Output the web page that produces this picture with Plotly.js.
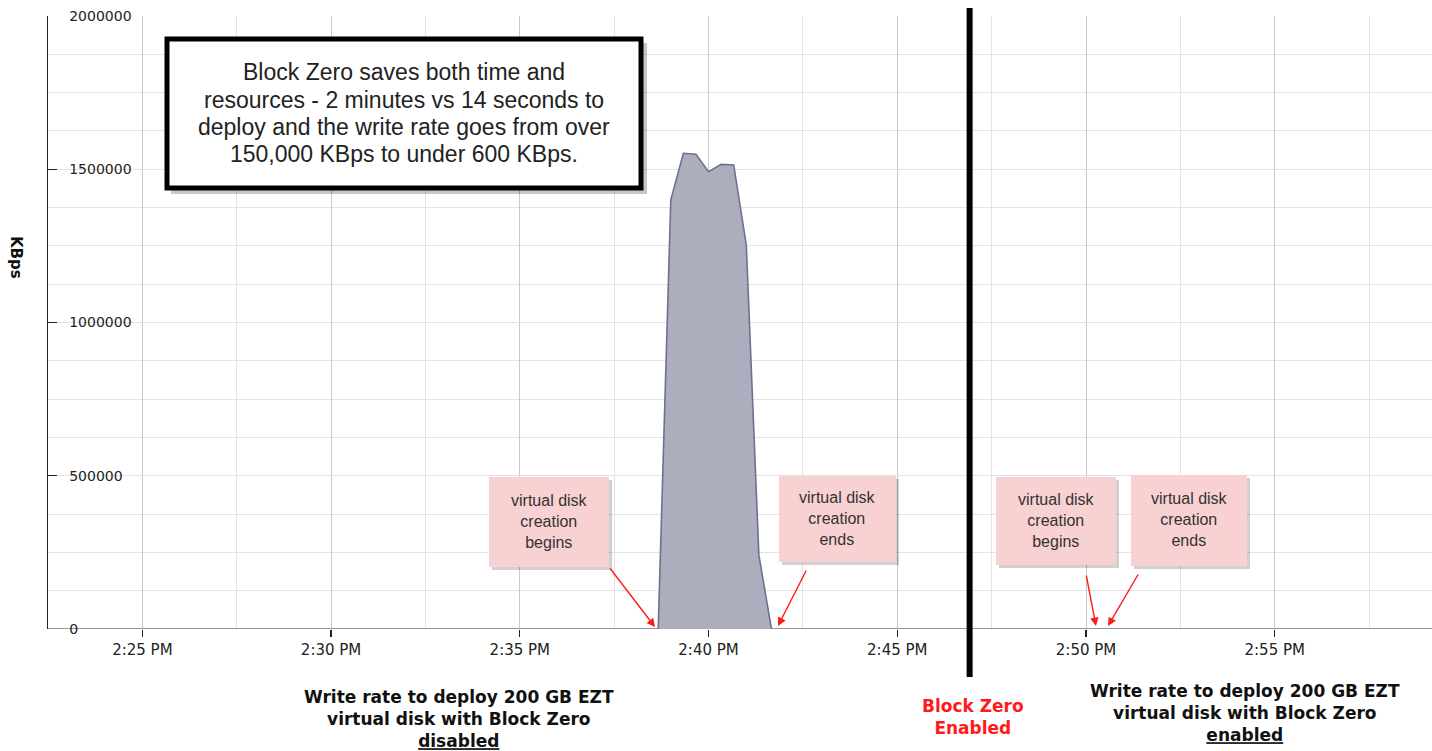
<!DOCTYPE html>
<html>
<head>
<meta charset="utf-8">
<script src="https://cdn.plot.ly/plotly-3.0.1.min.js"></script>
<style>html,body{margin:0;padding:0;background:#fff;}#chart{width:1432px;height:751px;}</style>
</head>
<body>
<div id="chart"></div>
<script>
// ---- data ----
const times = [
  '2024-01-01 14:22:30', '2024-01-01 14:38:40', '2024-01-01 14:39:00', '2024-01-01 14:39:20',
  '2024-01-01 14:39:40', '2024-01-01 14:40:00', '2024-01-01 14:40:20', '2024-01-01 14:40:40',
  '2024-01-01 14:41:00', '2024-01-01 14:41:20', '2024-01-01 14:41:40', '2024-01-01 14:50:00',
  '2024-01-01 14:50:20', '2024-01-01 14:50:40', '2024-01-01 14:59:10'
];
const kbps = [0, 0, 1400000, 1552000, 1549000, 1492000, 1516000, 1514000, 1253000, 241000, 0, 0, 560, 0, 0];
const xRange = ['2024-01-01 14:22:30', '2024-01-01 14:59:10'];
const blockZeroTime = '2024-01-01 14:46:55';
const yTickVals = [0, 500000, 1000000, 1500000, 2000000];
const yTickText = ['0', '500000', '1000000', '1500000', '2000000'];
const noteLines = ['Block Zero saves both time and', 'resources - 2 minutes vs 14 seconds to', 'deploy and the write rate goes from over', '150,000 KBps to under 600 KBps.'];
const boxLabels = ['virtual disk<br>creation<br>begins', 'virtual disk<br>creation<br>ends', 'virtual disk<br>creation<br>begins', 'virtual disk<br>creation<br>ends'];
const leftCaption = '<b>Write rate to deploy 200 GB EZT<br>virtual disk with Block Zero<br><u>disabled</u></b>';
const rightCaption = '<b>Write rate to deploy 200 GB EZT<br>virtual disk with Block Zero<br><u>enabled</u></b>';
const midCaption = '<b>Block Zero<br>Enabled</b>';

// ---- layout helpers (pixel -> paper) ----
const L = 48, T = 16, W = 1384, H = 613;
const px2x = p => (p - L) / W;
const px2y = p => (T + H - p) / H;
const t0 = new Date(xRange[0].replace(' ', 'T')).getTime();
const t1 = new Date(xRange[1].replace(' ', 'T')).getTime();
const timeToPaper = t => (new Date(t.replace(' ', 'T')).getTime() - t0) / (t1 - t0);

const shapes = [];
// white backgrounds behind inside y tick labels
yTickVals.forEach(v => {
  if (v === 0) return;
  shapes.push({type: 'rect', layer: 'between', xref: 'paper', yref: 'y',
    x0: px2x(60), x1: px2x(134), ysizemode: 'pixel', yanchor: v, y0: -8, y1: 8,
    fillcolor: '#ffffff', line: {width: 0}});
});
// big note box with shadow
shapes.push({type: 'rect', layer: 'above', xref: 'paper', yref: 'paper',
  x0: px2x(171), x1: px2x(647), y0: px2y(43), y1: px2y(194),
  fillcolor: 'rgba(0,0,0,0.22)', line: {width: 0}});
shapes.push({type: 'rect', layer: 'above', xref: 'paper', yref: 'paper',
  x0: px2x(167), x1: px2x(641), y0: px2y(39), y1: px2y(188),
  fillcolor: '#ffffff', line: {color: '#000000', width: 5}});
// pink boxes
const pinkBoxes = [[489, 609, 477, 567], [779, 896, 476, 562], [996, 1116, 477, 565], [1131, 1247, 475, 566]];
pinkBoxes.forEach(b => {
  shapes.push({type: 'rect', layer: 'above', xref: 'paper', yref: 'paper',
    x0: px2x(b[0] + 3), x1: px2x(b[1] + 3), y0: px2y(b[2] + 3), y1: px2y(b[3] + 3),
    fillcolor: 'rgba(0,0,0,0.18)', line: {width: 0}});
  shapes.push({type: 'rect', layer: 'above', xref: 'paper', yref: 'paper',
    x0: px2x(b[0]), x1: px2x(b[1]), y0: px2y(b[2]), y1: px2y(b[3]),
    fillcolor: '#f8d1d2', line: {width: 0}});
});
// Block Zero vertical divider
const bzx = timeToPaper(blockZeroTime);
shapes.push({type: 'line', layer: 'above', xref: 'paper', yref: 'paper',
  x0: bzx, x1: bzx, y0: px2y(8), y1: px2y(677), line: {color: '#000000', width: 6}});

const annotations = [];
const noteY = [72, 100, 127, 154];
noteLines.forEach((s, i) => {
  annotations.push({xref: 'paper', yref: 'paper', x: px2x(404), y: px2y(noteY[i]), xanchor: 'center', yanchor: 'middle',
    text: s, showarrow: false, align: 'center',
    font: {family: 'Liberation Sans, Arial, sans-serif', size: 23, color: '#222222'}});
});
pinkBoxes.forEach((b, i) => {
  annotations.push({xref: 'paper', yref: 'paper', x: px2x((b[0] + b[1]) / 2), y: px2y((b[2] + b[3]) / 2 - 1),
    xanchor: 'center', yanchor: 'middle', text: boxLabels[i], showarrow: false, align: 'center',
    font: {family: 'Liberation Sans, Arial, sans-serif', size: 16, color: '#333333'}});
});
// red arrows [head x, head y, tail x, tail y]
const arrows = [[655, 627, 609, 567], [778, 626, 807, 569], [1096, 626, 1086, 574], [1108, 626, 1139, 573]];
arrows.forEach(a => {
  annotations.push({xref: 'paper', yref: 'paper', x: px2x(a[0]), y: px2y(a[1]),
    ax: a[2] - a[0], ay: a[3] - a[1], text: '', showarrow: true,
    arrowhead: 2, arrowsize: 1.2, arrowwidth: 1.4, arrowcolor: '#ff1a1a'});
});
// y axis title
annotations.push({xref: 'paper', yref: 'paper', x: px2x(16), y: px2y(257), xanchor: 'center', yanchor: 'middle',
  text: '<b>KBps</b>', textangle: 90, showarrow: false,
  font: {family: 'DejaVu Sans, Verdana, sans-serif', size: 15, color: '#111111'}});
// captions below
annotations.push({xref: 'paper', yref: 'paper', x: px2x(459), y: px2y(719), xanchor: 'center', yanchor: 'middle',
  text: leftCaption, showarrow: false, align: 'center',
  font: {family: 'DejaVu Sans, Verdana, sans-serif', size: 17, color: '#111111'}});
annotations.push({xref: 'paper', yref: 'paper', x: px2x(1245), y: px2y(713), xanchor: 'center', yanchor: 'middle',
  text: rightCaption, showarrow: false, align: 'center',
  font: {family: 'DejaVu Sans, Verdana, sans-serif', size: 17, color: '#111111'}});
annotations.push({xref: 'paper', yref: 'paper', x: px2x(973), y: px2y(717), xanchor: 'center', yanchor: 'middle',
  text: midCaption, showarrow: false, align: 'center',
  font: {family: 'DejaVu Sans, Verdana, sans-serif', size: 17, color: '#ff1a1a'}});

const trace = {
  type: 'scatter', mode: 'lines', x: times, y: kbps,
  fill: 'tozeroy', fillcolor: '#acaebe',
  line: {color: '#6c7190', width: 1.6}, cliponaxis: false, hoverinfo: 'skip'
};

const layout = {
  width: 1432, height: 751,
  margin: {l: L, r: 1432 - L - W, t: T, b: 751 - T - H, pad: 0},
  paper_bgcolor: '#ffffff', plot_bgcolor: '#ffffff',
  showlegend: false,
  xaxis: {
    type: 'date', range: xRange, tickformat: '%-I:%M %p',
    tick0: '2024-01-01 14:25:00', dtick: 300000,
    ticks: 'outside', ticklen: 7, tickcolor: '#222222', tickwidth: 1.2,
    showgrid: true, gridcolor: '#c9c9c9', gridwidth: 1,
    minor: {tick0: '2024-01-01 14:25:00', dtick: 150000, showgrid: true, gridcolor: '#e3e3e3', ticks: ''},
    showline: false, zeroline: false,
    tickfont: {family: 'DejaVu Sans, Verdana, sans-serif', size: 15, color: '#222222'}
  },
  yaxis: {
    range: [0, 2000000], tickmode: 'array', tickvals: yTickVals, ticktext: yTickText,
    ticks: 'inside', ticklen: 9, tickcolor: '#222222', tickwidth: 1.2,
    ticklabelposition: 'inside', ticklabeloverflow: 'allow', ticklabelstandoff: 12,
    showline: true, linecolor: '#222222', linewidth: 1.5,
    showgrid: true, gridcolor: '#e3e3e3',
    minor: {tickmode: 'linear', tick0: 0, dtick: 125000, showgrid: true, gridcolor: '#e3e3e3', ticks: ''},
    zeroline: false,
    tickfont: {family: 'DejaVu Sans, Verdana, sans-serif', size: 14, color: '#222222'}
  },
  shapes: shapes,
  annotations: annotations
};

Plotly.newPlot('chart', [trace], layout, {staticPlot: true, displayModeBar: false});
</script>
</body>
</html>
